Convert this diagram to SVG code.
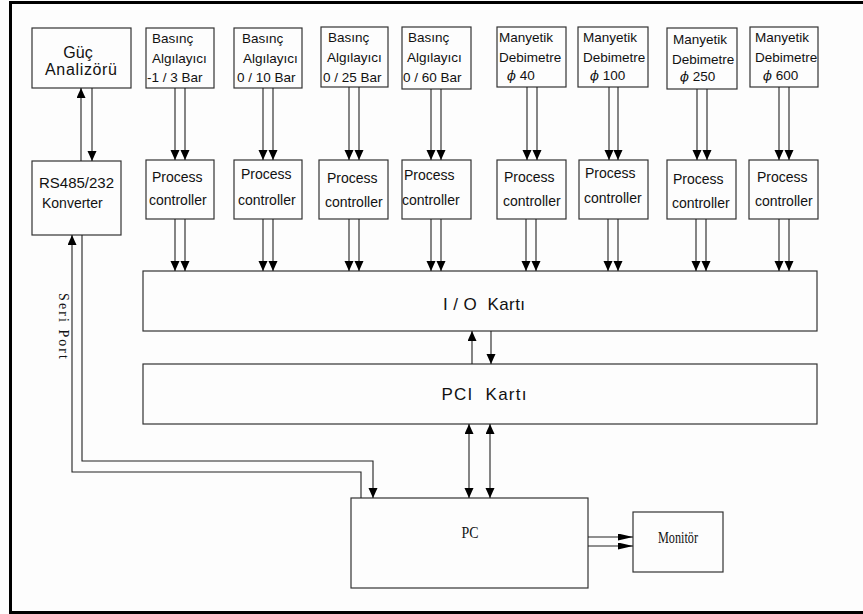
<svg xmlns="http://www.w3.org/2000/svg" width="863" height="614" viewBox="0 0 863 614">
<style>
.box{fill:none;stroke:#333;stroke-width:1.2}
.t{font-family:"Liberation Sans",Arial,sans-serif;fill:#111}
.s{font-size:13.5px}
.p{font-size:14px}
.serif{font-family:"Liberation Serif","Times New Roman",serif;fill:#111}
.phi{font-family:"DejaVu Serif",serif;font-style:italic;font-size:13px}
.c{fill:none;stroke:#222;stroke-width:1.1}
.ca{fill:none;stroke:#222;stroke-width:1.1;marker-end:url(#ah)}
</style>
<defs>
<marker id="ah" markerUnits="userSpaceOnUse" markerWidth="10" markerHeight="12" refX="10" refY="4.5" orient="auto"><path d="M0,0 L10,4.5 L0,9 z" fill="#000"/></marker>
<marker id="ah2" markerUnits="userSpaceOnUse" markerWidth="16" markerHeight="10" refX="15" refY="3.5" orient="auto"><path d="M0,0 L15,3.5 L0,7 z" fill="#000"/></marker>
</defs>
<rect x="0" y="0" width="863" height="614" fill="#fdfdfd"/>
<g id="frame" stroke="#000" stroke-width="3" fill="none">
<line x1="9" y1="2.5" x2="863" y2="2.5"/>
<line x1="10.5" y1="1" x2="10.5" y2="614"/>
<line x1="9" y1="612.5" x2="863" y2="612.5"/>
</g>
<g id="guc"><rect class="box" x="32" y="28" width="99" height="60"/><text class="t" x="78" y="58" font-size="16" text-anchor="middle">Güç</text><text class="t" x="81" y="75" font-size="16" text-anchor="middle" textLength="72">Analizörü</text></g>
<g id="rs485"><rect class="box" x="32" y="161" width="89" height="74"/><text class="t" x="39" y="188" font-size="15">RS485/232</text><text class="t" x="42" y="208" font-size="14">Konverter</text></g>
<g id="s1"><rect class="box" x="146" y="28" width="68" height="60"/><text class="t s" x="152" y="43">Basınç</text><text class="t s" x="152" y="63">Algılayıcı</text><text class="t s" x="147" y="82">-1 / 3 Bar</text></g>
<g id="s2"><rect class="box" x="234" y="28" width="68" height="60"/><text class="t s" x="242" y="43">Basınç</text><text class="t s" x="243" y="63">Algılayıcı</text><text class="t s" x="237" y="82">0 / 10 Bar</text></g>
<g id="s3"><rect class="box" x="321" y="27" width="67" height="60"/><text class="t s" x="328" y="42">Basınç</text><text class="t s" x="327" y="62">Algılayıcı</text><text class="t s" x="323" y="82">0 / 25 Bar</text></g>
<g id="s4"><rect class="box" x="402" y="27" width="69" height="62"/><text class="t s" x="408" y="42">Basınç</text><text class="t s" x="407" y="62">Algılayıcı</text><text class="t s" x="403" y="82">0 / 60 Bar</text></g>
<g id="s5"><rect class="box" x="497" y="27" width="69" height="60"/><text class="t s" x="499" y="42">Manyetik</text><text class="t s" x="499" y="62">Debimetre</text><text class="t s" x="507" y="80"><tspan class="phi">ϕ</tspan> 40</text></g>
<g id="s6"><rect class="box" x="578" y="27" width="70" height="60"/><text class="t s" x="583" y="42">Manyetik</text><text class="t s" x="583" y="62">Debimetre</text><text class="t s" x="590" y="80"><tspan class="phi">ϕ</tspan> 100</text></g>
<g id="s7"><rect class="box" x="667" y="28" width="70" height="61"/><text class="t s" x="673" y="44">Manyetik</text><text class="t s" x="672" y="64">Debimetre</text><text class="t s" x="680" y="81"><tspan class="phi">ϕ</tspan> 250</text></g>
<g id="s8"><rect class="box" x="750" y="27" width="68" height="60"/><text class="t s" x="755" y="42">Manyetik</text><text class="t s" x="755" y="62">Debimetre</text><text class="t s" x="763" y="80"><tspan class="phi">ϕ</tspan> 600</text></g>
<g id="pc1"><rect class="box" x="146" y="160" width="68" height="59"/><text class="t p" x="152" y="182">Process</text><text class="t p" x="149" y="205">controller</text></g>
<g id="pc2"><rect class="box" x="234" y="160" width="68" height="59"/><text class="t p" x="241" y="179">Process</text><text class="t p" x="238" y="205">controller</text></g>
<g id="pc3"><rect class="box" x="319" y="160" width="69" height="59"/><text class="t p" x="327" y="183">Process</text><text class="t p" x="325" y="207">controller</text></g>
<g id="pc4"><rect class="box" x="402" y="160" width="69" height="59"/><text class="t p" x="404" y="180">Process</text><text class="t p" x="402" y="205">controller</text></g>
<g id="pc5"><rect class="box" x="497" y="160" width="69" height="59"/><text class="t p" x="504" y="182">Process</text><text class="t p" x="503" y="206">controller</text></g>
<g id="pc6"><rect class="box" x="579" y="160" width="69" height="59"/><text class="t p" x="585" y="178">Process</text><text class="t p" x="584" y="203">controller</text></g>
<g id="pc7"><rect class="box" x="667" y="160" width="69" height="59"/><text class="t p" x="673" y="184">Process</text><text class="t p" x="672" y="208">controller</text></g>
<g id="pc8"><rect class="box" x="749" y="160" width="69" height="59"/><text class="t p" x="757" y="182">Process</text><text class="t p" x="755" y="206">controller</text></g>
<g id="io"><rect class="box" x="143" y="271" width="674" height="60"/><text class="t" x="484" y="310" font-size="17" text-anchor="middle" textLength="82" xml:space="preserve">I / O  Kartı</text></g>
<g id="pci"><rect class="box" x="143" y="364" width="674" height="60"/><text class="t" x="484" y="400" font-size="17" text-anchor="middle" textLength="85" xml:space="preserve">PCI  Kartı</text></g>
<g id="pc"><rect class="box" x="351" y="498" width="237" height="90"/><text class="serif" x="470" y="538" font-size="16" text-anchor="middle" textLength="17" lengthAdjust="spacingAndGlyphs">PC</text></g>
<g id="monitor"><rect class="box" x="633" y="512" width="90" height="60"/><text class="serif" x="678" y="543" font-size="16" text-anchor="middle" textLength="40" lengthAdjust="spacingAndGlyphs">Monitör</text></g>
<text class="serif" transform="translate(59,326) rotate(90)" font-size="14" text-anchor="middle" textLength="66">Seri Port</text>
<g id="connectors">
<line class="ca" x1="81" y1="161" x2="81" y2="88"/>
<line class="ca" x1="92" y1="88" x2="92" y2="161"/>
<line class="ca" x1="175" y1="88" x2="175" y2="160"/><line class="ca" x1="185" y1="88" x2="185" y2="160"/>
<line class="ca" x1="263" y1="88" x2="263" y2="160"/><line class="ca" x1="273" y1="88" x2="273" y2="160"/>
<line class="ca" x1="349" y1="87" x2="349" y2="160"/><line class="ca" x1="359" y1="87" x2="359" y2="160"/>
<line class="ca" x1="431" y1="89" x2="431" y2="160"/><line class="ca" x1="441" y1="89" x2="441" y2="160"/>
<line class="ca" x1="527" y1="87" x2="527" y2="160"/><line class="ca" x1="537" y1="87" x2="537" y2="160"/>
<line class="ca" x1="609" y1="87" x2="609" y2="160"/><line class="ca" x1="618" y1="87" x2="618" y2="160"/>
<line class="ca" x1="697" y1="89" x2="697" y2="160"/><line class="ca" x1="707" y1="89" x2="707" y2="160"/>
<line class="ca" x1="779" y1="87" x2="779" y2="160"/><line class="ca" x1="789" y1="87" x2="789" y2="160"/>
<line class="ca" x1="175" y1="219" x2="175" y2="271"/><line class="ca" x1="185" y1="219" x2="185" y2="271"/>
<line class="ca" x1="263" y1="219" x2="263" y2="271"/><line class="ca" x1="273" y1="219" x2="273" y2="271"/>
<line class="ca" x1="349" y1="219" x2="349" y2="271"/><line class="ca" x1="359" y1="219" x2="359" y2="271"/>
<line class="ca" x1="431" y1="219" x2="431" y2="271"/><line class="ca" x1="441" y1="219" x2="441" y2="271"/>
<line class="ca" x1="526" y1="219" x2="526" y2="271"/><line class="ca" x1="536" y1="219" x2="536" y2="271"/>
<line class="ca" x1="608" y1="219" x2="608" y2="271"/><line class="ca" x1="618" y1="219" x2="618" y2="271"/>
<line class="ca" x1="696" y1="219" x2="696" y2="271"/><line class="ca" x1="706" y1="219" x2="706" y2="271"/>
<line class="ca" x1="779" y1="219" x2="779" y2="271"/><line class="ca" x1="789" y1="219" x2="789" y2="271"/>
<line class="ca" x1="472" y1="364" x2="472" y2="331"/>
<line class="ca" x1="491" y1="331" x2="491" y2="364"/>
<line class="ca" x1="469" y1="460" x2="469" y2="424"/><line class="ca" x1="469" y1="460" x2="469" y2="498"/>
<line class="ca" x1="490" y1="460" x2="490" y2="424"/><line class="ca" x1="490" y1="460" x2="490" y2="498"/>
<polyline class="ca" points="361,498 361,472 72,472 72,235"/>
<polyline class="ca" points="82,235 82,461 373,461 373,498"/>
<line x1="588" y1="537" x2="633" y2="537" stroke="#222" stroke-width="1.1" marker-end="url(#ah2)"/>
<line x1="588" y1="546" x2="633" y2="546" stroke="#222" stroke-width="1.1" marker-end="url(#ah2)"/>
</g>
</svg>
